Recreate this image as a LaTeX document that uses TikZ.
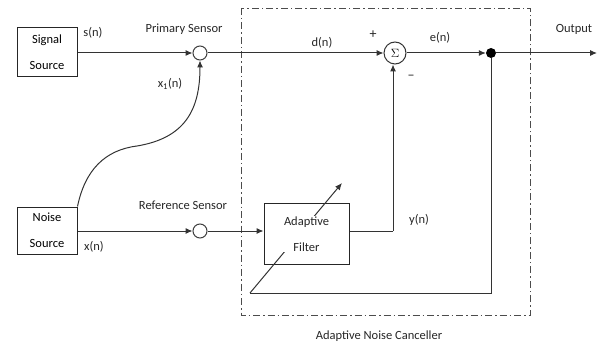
\documentclass[tikz,border=0pt]{standalone}
\usepackage{fontspec}
\setmainfont{Carlito}
\usetikzlibrary{arrows.meta,calc}
\begin{document}
\begin{tikzpicture}[x=1pt,y=-1pt,
  ln/.style={draw=black!80,line width=1pt},
  arr/.style={ln,-{Latex[length=7pt,width=6pt]}},
  blk/.style={draw=black!85,line width=1pt,align=center,inner sep=0pt,font=\fontsize{12.5}{26}\selectfont},
  sens/.style={circle,draw=black!75,line width=1pt,minimum size=14pt,inner sep=0pt},
  lbl/.style={font=\fontsize{12.5}{14}\selectfont,text=black!85,inner sep=0pt}]
\useasboundingbox (0,0) rectangle (601,347);
% dashed canceller box
\draw[black!70,line width=0.8pt,dash pattern=on 7pt off 3pt on 1.5pt off 3pt] (241,8) rectangle (530,315);
% blocks
\node[blk,minimum width=60pt,minimum height=49pt] (sig) at (47,52.5) {Signal\\Source};
\node[blk,minimum width=60pt,minimum height=47pt] (noi) at (47,230.5) {Noise\\Source};
\node[sens] (ps) at (200,53) {};
\node[sens] (rs) at (200,231) {};
\node[circle,draw=black!80,line width=1pt,minimum size=22pt,inner sep=0pt,font=\fontsize{12}{14}\selectfont] (sum) at (395,53) {$\Sigma$};
\node[circle,fill=black,minimum size=10pt,inner sep=0pt] (dot) at (491,53) {};
\node[draw=black!85,line width=1pt,minimum width=85pt,minimum height=61pt] (af) at (306.5,233.5) {};
\coordinate (out) at (597,53);
\coordinate (yc) at (393,231);
\coordinate (fb1) at (491,293);
\coordinate (fb2) at (250,293);
\coordinate (tip) at (342,183);
% connectors
\draw[arr] (sig.east |- ps) -- (ps);
\draw[arr] (ps) -- (sum);
\draw[arr] (sum) -- (dot);
\draw[arr] (dot) -- (out);
\draw[arr] (noi.east |- rs) -- (rs);
\draw[arr] (rs) -- (af.west |- rs);
\draw[ln] (af.east |- yc) -- (yc);
\draw[arr] (yc) -- (sum.south -| yc);
\draw[arr] (noi.north east) .. controls (85,170) and (105,150) .. (137,146) .. controls (185,138) and (200,110) .. (ps.south);
\draw[ln] (dot) -- (fb1) -- (fb2);
\draw[arr] (fb2) -- (tip);
\node[fill=white,align=center,inner sep=1pt,font=\fontsize{12.5}{26}\selectfont,text=black!85] (aft) at (306.5,234) {Adaptive\\Filter};
% labels
\node[lbl] (ls) at (93,33) {s(n)};
\node[lbl] (lp) at (184,29) {Primary Sensor};
\node[lbl] (lx1) at (170,84) {x\textsubscript{1}(n)};
\node[lbl] (ld) at (322,43) {d(n)};
\node[lbl,font=\fontsize{14}{14}\selectfont] (lplus) at (373,35) {+};
\node[lbl,font=\fontsize{14}{14}\selectfont] (lminus) at (411,77) {--};
\node[lbl] (le) at (440,38) {e(n)};
\node[lbl] (lo) at (574,29) {Output};
\node[lbl] (lr) at (183,205) {Reference Sensor};
\node[lbl] (lx) at (94,247) {x(n)};
\node[lbl] (ly) at (419,220) {y(n)};
\node[lbl] (lanc) at (379,336) {Adaptive Noise Canceller};
\end{tikzpicture}
\end{document}
